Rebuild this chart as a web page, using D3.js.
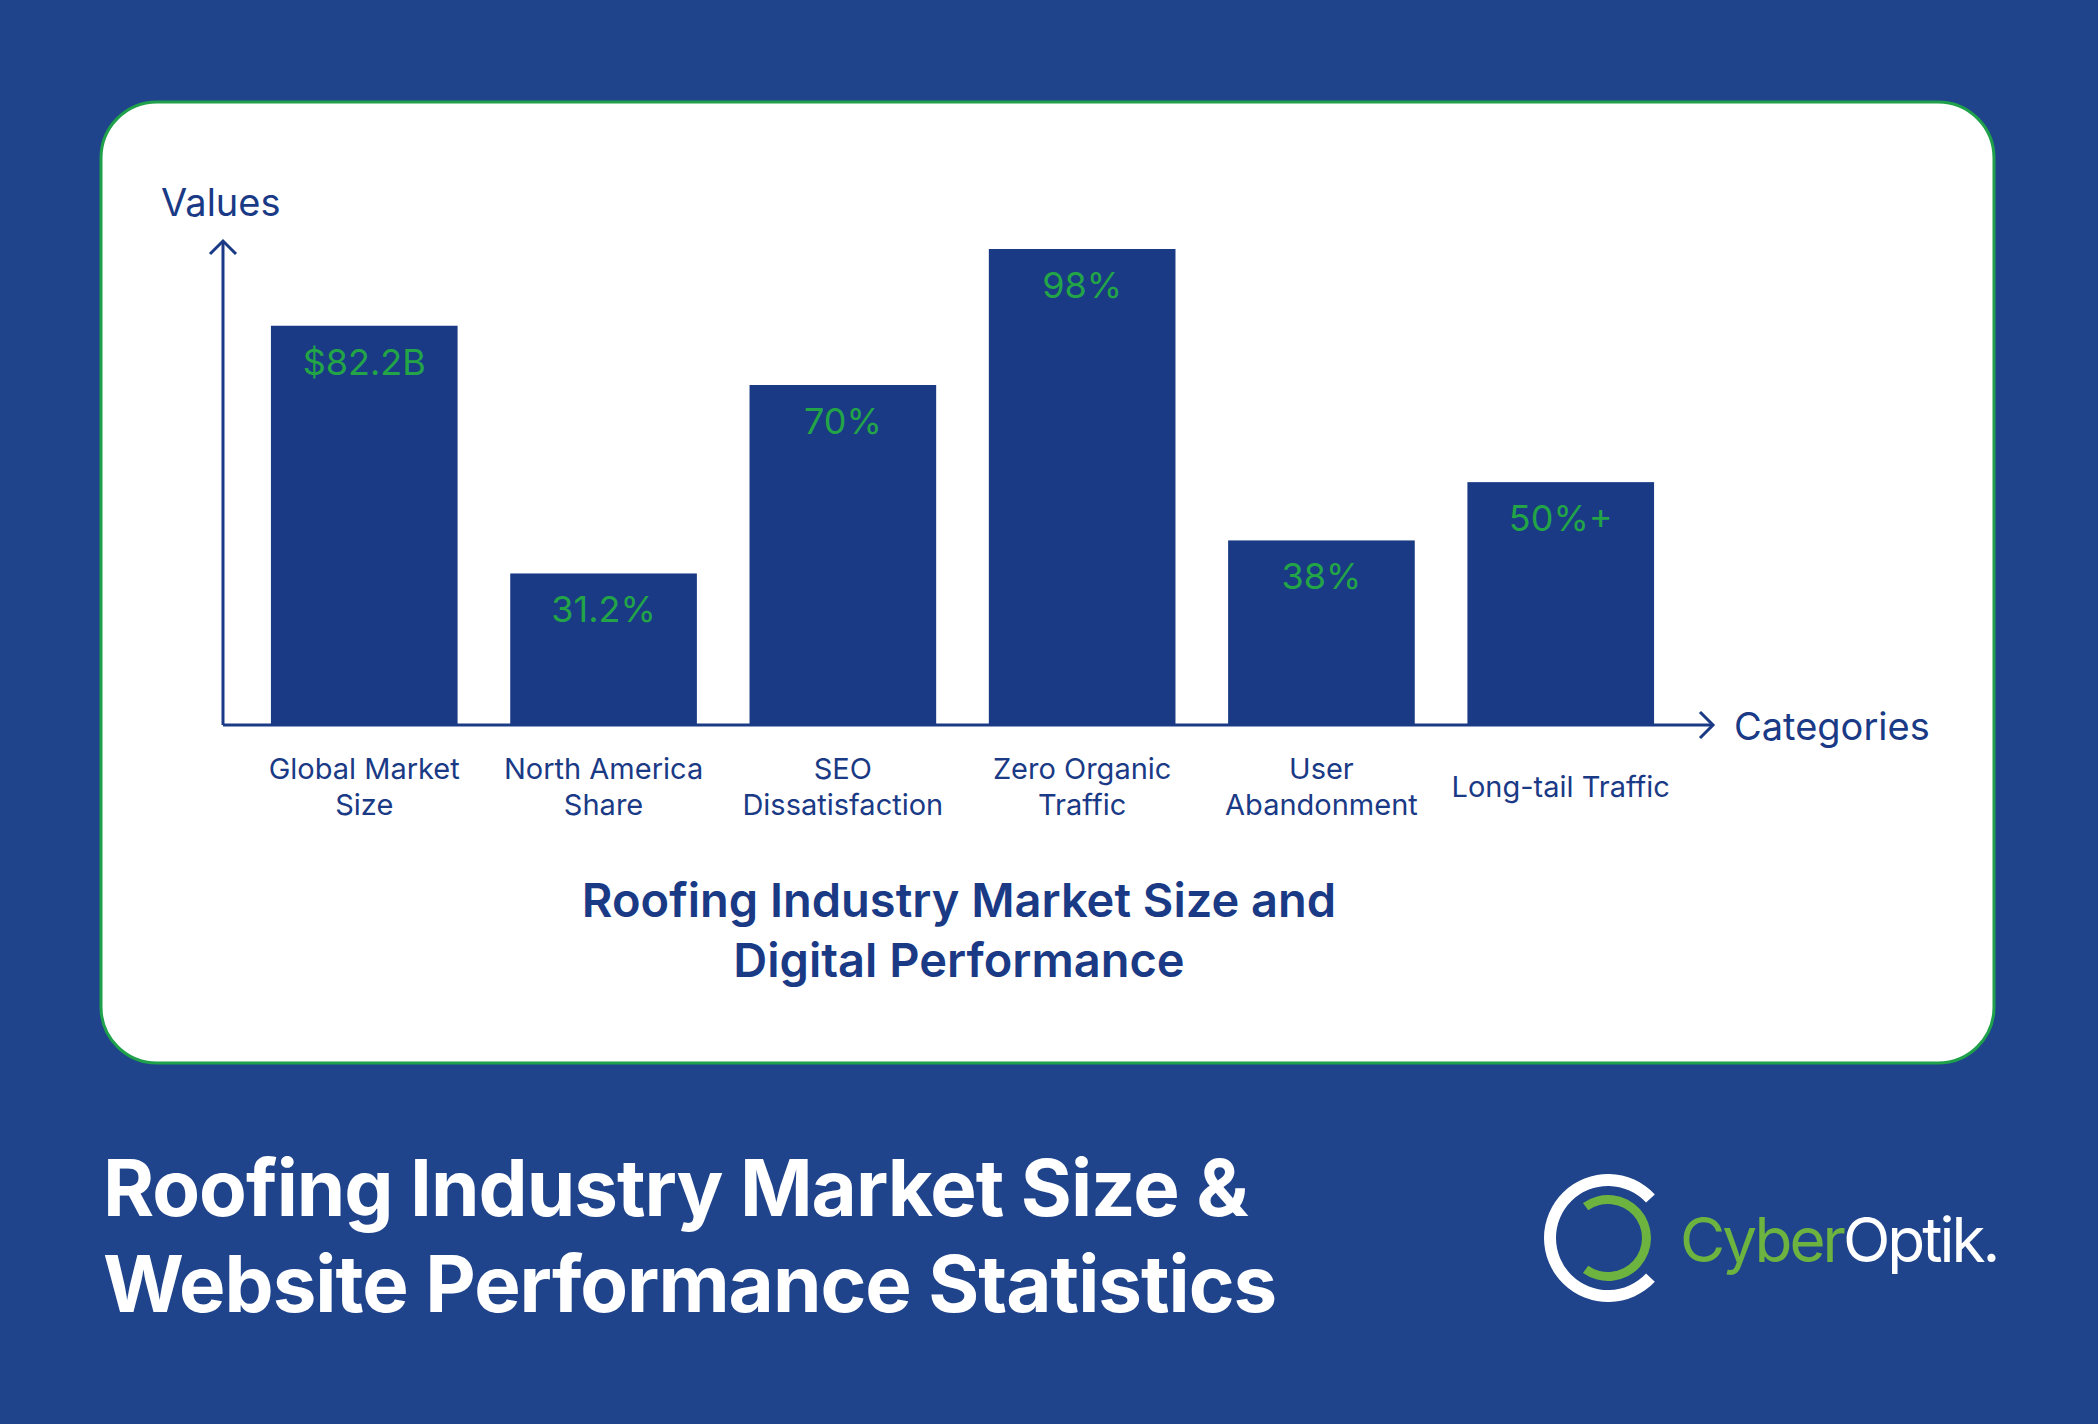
<!DOCTYPE html>
<html>
<head>
<meta charset="UTF-8">
<script src="https://cdn.jsdelivr.net/npm/d3@7"></script>
<style>
  body { margin:0; background:#1f448c; }
  text { font-family: Inter, "Noto Sans", sans-serif; }
</style>
</head>
<body>
<script>
var categories = [["Global Market","Size"],["North America","Share"],["SEO","Dissatisfaction"],["Zero Organic","Traffic"],["User","Abandonment"],["Long-tail Traffic"]];
var values = [82.2, 31.2, 70, 98, 38, 50];
var labels = ["$82.2B","31.2%","70%","98%","38%","50%+"];

var navy = "#1a3a86", green = "#22a447";

var svg = d3.select("body").append("svg").attr("width",2098).attr("height",1424);
svg.append("rect").attr("width",2098).attr("height",1424).attr("fill","#1f448c");

svg.append("rect").attr("x",101).attr("y",102).attr("width",1893).attr("height",961)
   .attr("rx",56).attr("fill","#fff").attr("stroke","#1fa04a").attr("stroke-width",3);

var x = d3.scaleBand().domain(d3.range(values.length)).range([247,1678]).paddingInner(0.22).paddingOuter(0.1);
var y = d3.scaleLinear().domain([0,98]).range([725,249]);

var g = svg.append("g");
g.selectAll("rect.bar").data(values).enter().append("rect").attr("class","bar")
  .attr("x",function(d,i){return x(i);}).attr("y",function(d){return y(d);})
  .attr("width",x.bandwidth()).attr("height",function(d){return y(0)-y(d);})
  .attr("fill",navy);

g.selectAll("text.val").data(values).enter().append("text").attr("class","val")
  .attr("x",function(d,i){return x(i)+x.bandwidth()/2;}).attr("y",function(d){return y(d)+49;})
  .attr("text-anchor","middle").attr("font-size",36).attr("fill",green)
  .text(function(d,i){return labels[i];});

// axes
g.append("path").attr("d","M223,725V243").attr("stroke",navy).attr("stroke-width",3).attr("fill","none");
g.append("path").attr("d","M210,254L223,241L236,254").attr("stroke",navy).attr("stroke-width",3).attr("fill","none");
g.append("path").attr("d","M223,725H1712").attr("stroke",navy).attr("stroke-width",3).attr("fill","none");
g.append("path").attr("d","M1700,712L1713,725L1700,738").attr("stroke",navy).attr("stroke-width",3).attr("fill","none");

svg.append("text").attr("x",161).attr("y",216).attr("font-size",38).attr("fill",navy).text("Values");
svg.append("text").attr("x",1734).attr("y",740).attr("font-size",38).attr("fill",navy).text("Categories");

g.selectAll("text.cat").data(categories).enter().append("text").attr("class","cat")
  .attr("text-anchor","middle").attr("font-size",29).attr("fill",navy)
  .each(function(d,i){
    var t = d3.select(this);
    var cx = x(i)+x.bandwidth()/2;
    var y0 = d.length === 1 ? 797 : 779;
    d.forEach(function(line,j){
      t.append("tspan").attr("x",cx).attr("y",y0+j*36).text(line);
    });
  });

svg.append("text").attr("x",959).attr("y",917).attr("text-anchor","middle").attr("font-size",47)
  .attr("font-weight",600).attr("fill",navy).text("Roofing Industry Market Size and");
svg.append("text").attr("x",959).attr("y",977).attr("text-anchor","middle").attr("font-size",47)
  .attr("font-weight",600).attr("fill",navy).text("Digital Performance");

svg.append("text").attr("x",103).attr("y",1216).attr("font-size",78).attr("font-weight",700)
  .attr("fill","#fff").attr("letter-spacing",-1).text("Roofing Industry Market Size &");
svg.append("text").attr("x",103).attr("y",1312).attr("font-size",78).attr("font-weight",700)
  .attr("fill","#fff").attr("letter-spacing",-1).text("Website Performance Statistics");

// logo
var arc = d3.arc();
var logo = svg.append("g").attr("transform","translate(1608,1238)");
logo.append("path").attr("fill","#fff")
  .attr("d",arc({innerRadius:52,outerRadius:64,startAngle:Math.PI/2+0.75,endAngle:Math.PI/2+2*Math.PI-0.75}));
logo.append("path").attr("fill","#6cb43f")
  .attr("d",arc({innerRadius:34,outerRadius:43,startAngle:-Math.PI/2+0.95,endAngle:3*Math.PI/2-0.95}));
var lt = svg.append("text").attr("x",1680).attr("y",1262).attr("font-size",62).attr("font-family","Roboto")
  .attr("letter-spacing",-3);
lt.append("tspan").attr("fill","#6cb43f").text("Cyber");
lt.append("tspan").attr("fill","#fff").text("Optik.");
</script>
</body>
</html>
